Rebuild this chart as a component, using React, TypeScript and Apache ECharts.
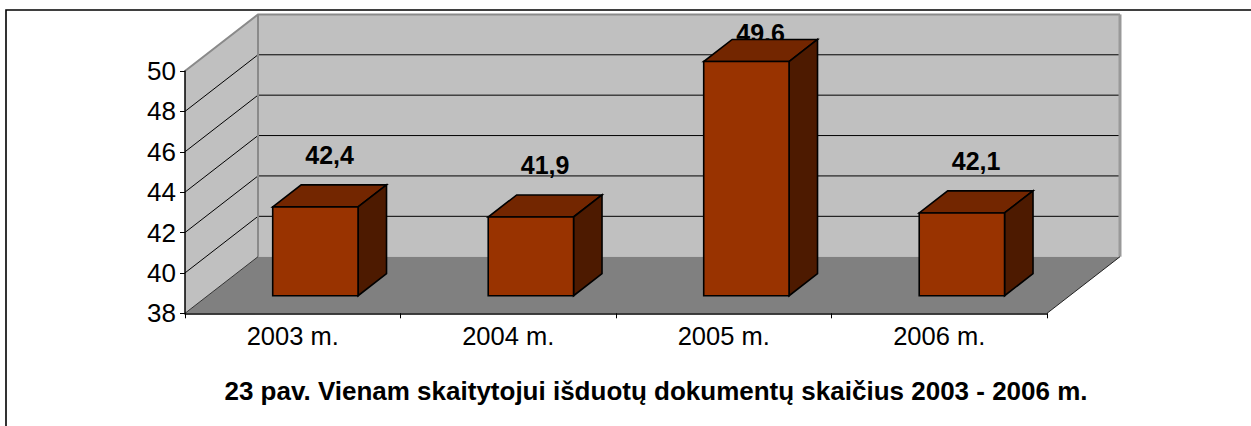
import React, { useEffect, useRef } from 'react';
import * as echarts from 'echarts';

const categories = ['2003 m.', '2004 m.', '2005 m.', '2006 m.'];
const values = [42.4, 41.9, 49.6, 42.1];
const valueLabels = ['42,4', '41,9', '49,6', '42,1'];
const yTicks = [38, 40, 42, 44, 46, 48, 50];
const titleText = '23 pav. Vienam skaitytojui išduotų dokumentų skaičius 2003 - 2006 m.';

// 3D projection style constants (pixels)
const DX = 73;
const DY = -56.6;
const F1 = 0.31; // bar front depth fraction
const F2 = 0.7; // bar back depth fraction
const BAR_FRAC = 0.396;

const FONT = '"Liberation Sans", Arial, sans-serif';

export default function App() {
  const ref = useRef<HTMLDivElement>(null);

  useEffect(() => {
    if (!ref.current) return;
    const chart = echarts.init(ref.current, undefined, { renderer: 'svg' });
    const yMin = yTicks[0];
    const yMax = yTicks[yTicks.length - 1];

    const wallRender = (params: any, api: any) => {
      const cs = params.coordSys;
      const x0 = cs.x;
      const x1 = cs.x + cs.width;
      const yTop = cs.y;
      const yBot = cs.y + cs.height;
      const children: any[] = [];
      children.push({
        type: 'polygon',
        shape: { points: [[x0, yTop], [x0 + DX, yTop + DY], [x0 + DX, yBot + DY], [x0, yBot]] },
        style: { fill: '#c0c0c0' },
      });
      children.push({
        type: 'rect',
        shape: { x: x0 + DX, y: yTop + DY, width: x1 - x0, height: yBot - yTop },
        style: { fill: '#c0c0c0' },
      });
      children.push({
        type: 'polygon',
        shape: { points: [[x0, yBot], [x1, yBot], [x1 + DX, yBot + DY], [x0 + DX, yBot + DY]] },
        style: { fill: '#808080' },
      });
      yTicks.forEach((v) => {
        if (v === yMin || v === yMax) return;
        const y = api.coord([0, v])[1];
        children.push({
          type: 'line',
          shape: { x1: x0 + DX, y1: y + DY, x2: x1 + DX, y2: y + DY },
          style: { stroke: '#000', lineWidth: 1 },
        });
        children.push({
          type: 'line',
          shape: { x1: x0, y1: y, x2: x0 + DX, y2: y + DY },
          style: { stroke: '#000', lineWidth: 1 },
        });
      });
      // edges
      children.push({
        type: 'polyline',
        shape: { points: [[x0, yTop], [x0 + DX, yTop + DY], [x1 + DX, yTop + DY]] },
        style: { stroke: '#8a8a8a', lineWidth: 2, fill: 'none' },
      });
      children.push({
        type: 'line',
        shape: { x1: x0 + DX, y1: yTop + DY, x2: x0 + DX, y2: yBot + DY },
        style: { stroke: '#8a8a8a', lineWidth: 2 },
      });
      children.push({
        type: 'line',
        shape: { x1: x1 + DX, y1: yTop + DY, x2: x1 + DX, y2: yBot + DY },
        style: { stroke: '#999', lineWidth: 3 },
      });
      children.push({
        type: 'line',
        shape: { x1: x0, y1: yBot, x2: x0 + DX, y2: yBot + DY },
        style: { stroke: '#333', lineWidth: 1 },
      });
      children.push({
        type: 'line',
        shape: { x1: x1, y1: yBot, x2: x1 + DX, y2: yBot + DY },
        style: { stroke: '#222', lineWidth: 1 },
      });
      return { type: 'group', children };
    };

    const barRender = (params: any, api: any) => {
      const cat = api.value(0);
      const val = api.value(1);
      const c = api.coord([cat, val]);
      const base = api.coord([cat, yMin]);
      const band = api.size([1, 0])[0];
      const bw = band * BAR_FRAC;
      const ox = DX * F1;
      const oy = DY * F1;
      const dx = DX * (F2 - F1);
      const dy = DY * (F2 - F1);
      const left = c[0] - bw / 2 + ox;
      const right = left + bw;
      const top = c[1] + oy;
      const bottom = base[1] + oy;
      const backTop = params.coordSys.y + DY;
      const ly = Math.max(top + dy - 30, backTop + 19);
      const edge = { stroke: '#000', lineWidth: 1.6, lineJoin: 'miter' };
      return {
        type: 'group',
        children: [
          {
            type: 'text',
            style: {
              text: valueLabels[params.dataIndex],
              x: left + bw / 2 + dx / 2,
              y: ly,
              align: 'center',
              verticalAlign: 'middle',
              textAlign: 'center',
              textVerticalAlign: 'middle',
              font: `bold 25px ${FONT}`,
              fill: '#000',
            },
          },
          {
            type: 'polygon',
            shape: { points: [[left, top], [right, top], [right + dx, top + dy], [left + dx, top + dy]] },
            style: { fill: '#732600', ...edge },
          },
          {
            type: 'polygon',
            shape: { points: [[right, top], [right + dx, top + dy], [right + dx, bottom + dy], [right, bottom]] },
            style: { fill: '#4d1a00', ...edge },
          },
          {
            type: 'rect',
            shape: { x: left, y: top, width: bw, height: bottom - top },
            style: { fill: '#993300', ...edge },
          },
        ],
      };
    };

    chart.setOption({
      animation: false,
      backgroundColor: '#fff',
      title: {
        text: titleText,
        left: 651,
        top: 386,
        textAlign: 'center',
        textVerticalAlign: 'middle',
        textStyle: { fontFamily: FONT, fontWeight: 'bold', fontSize: 26, color: '#000' },
      },
      graphic: [
        {
          type: 'rect',
          shape: { x: 6, y: 10, width: 1400, height: 600 },
          style: { fill: 'none', stroke: '#000', lineWidth: 1.6 },
          silent: true,
        },
      ],
      grid: { left: 185, right: 204, top: 71, bottom: 112.7, containLabel: false },
      xAxis: {
        type: 'category',
        data: categories,
        z: 5,
        axisLine: { lineStyle: { color: '#000', width: 1.5 } },
        axisTick: { show: true, length: 5, lineStyle: { color: '#000' } },
        axisLabel: { fontFamily: FONT, fontSize: 25.5, color: '#000', margin: 10 },
        splitLine: { show: false },
      },
      yAxis: {
        type: 'value',
        min: yMin,
        max: yMax,
        interval: 2,
        z: 5,
        axisLine: { show: true, lineStyle: { color: '#000', width: 1.5 } },
        axisTick: { show: true, length: 5, lineStyle: { color: '#000' } },
        axisLabel: { fontFamily: FONT, fontSize: 26, color: '#000', margin: 9 },
        splitLine: { show: false },
      },
      series: [
        {
          type: 'custom',
          z: 1,
          silent: true,
          renderItem: wallRender,
          data: [[0, yMin]],
        },
        {
          type: 'custom',
          z: 2,
          renderItem: barRender,
          data: values.map((v, i) => [i, v]),
        },
      ],
    });
    return () => chart.dispose();
  }, []);

  return (
    <div
      ref={ref}
      style={{ position: 'fixed', left: 0, top: 0, width: 1251, height: 426, background: '#fff' }}
    />
  );
}
